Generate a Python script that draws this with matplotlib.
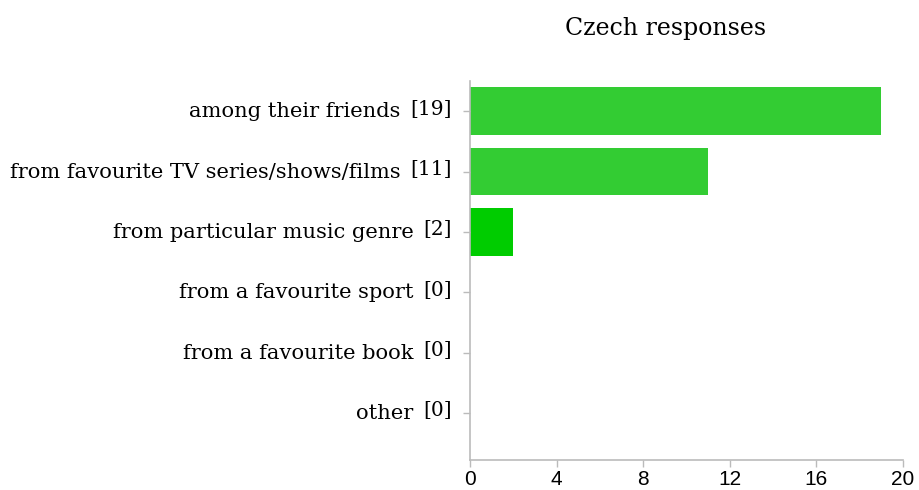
import matplotlib
matplotlib.use('Agg')
import matplotlib.pyplot as plt
import numpy as np

# data
categories = ['among their friends', 'from favourite TV series/shows/films',
              'from particular music genre', 'from a favourite sport',
              'from a favourite book', 'other']
counts = [19, 11, 2, 0, 0, 0]
bar_colors = ['#33cc33', '#33cc33', '#00cc00', '#00cc00', '#00cc00', '#00cc00']
x_ticks = [0, 4, 8, 12, 16, 20]
title = 'Czech responses'

fig = plt.figure(figsize=(9.19, 4.9), dpi=100)
ax = fig.add_axes([470 / 919, 30 / 490, 433 / 919, 379 / 490])

y = np.arange(len(categories))
ax.barh(y, counts, height=0.79, color=bar_colors, edgecolor='none')
ax.set_xlim(0, 20)
ax.set_ylim(5.78, -0.5)
ax.set_xticks(x_ticks)
ax.set_xticklabels([str(t) for t in x_ticks], fontfamily='Liberation Sans', fontsize=15)
ax.set_yticks(y)
ax.set_yticklabels([])
ax.tick_params(axis='both', colors='#bbbbbb', length=5, width=1)
ax.tick_params(axis='x', labelcolor='black', pad=2)
for s in ['top', 'right']:
    ax.spines[s].set_visible(False)
for s in ['left', 'bottom']:
    ax.spines[s].set_color('#bbbbbb')
    ax.spines[s].set_linewidth(1.2)

# labels: count in brackets slightly raised, text placed to its left
for i, (cat, n) in enumerate(zip(categories, counts)):
    br = ax.annotate('[{}]'.format(n), xy=(0, i), xycoords=('axes fraction', 'data'),
                     xytext=(-13, 1.5), textcoords='offset points',
                     ha='right', va='center', fontsize=14.5, family='DejaVu Serif')
    ax.annotate(cat, xy=(0, 0.5), xycoords=br, xytext=(-7, -2), textcoords='offset points',
                ha='right', va='center', fontsize=15.1, family='DejaVu Serif')

fig.text(666 / 919, 1 - 28 / 490, title, ha='center', va='center',
         fontsize=17, family='DejaVu Serif')

fig.savefig('out.png', dpi=100)
